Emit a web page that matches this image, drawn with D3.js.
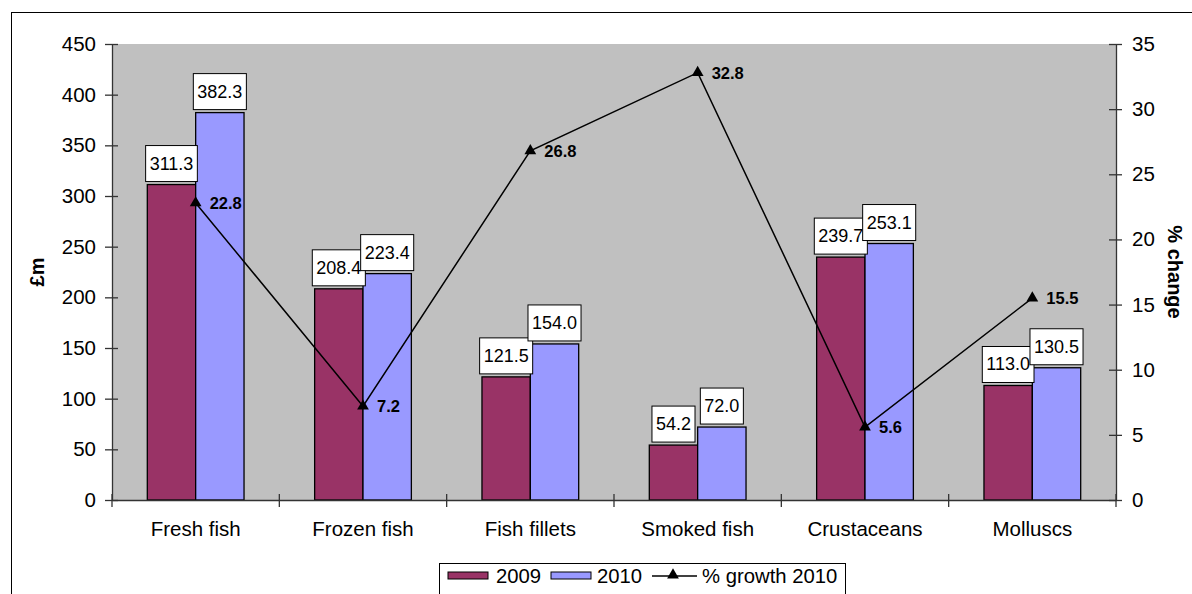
<!DOCTYPE html>
<html>
<head>
<meta charset="utf-8">
<script src="https://cdn.jsdelivr.net/npm/d3@7"></script>
<style>
  html, body { margin: 0; padding: 0; background: #fff; }
  svg { display: block; font-family: "Liberation Sans", Arial, sans-serif; }
</style>
</head>
<body>
<svg id="chart" width="1192" height="594"></svg>
<script>
// Fish sales by category, £m, with % growth in 2010
const categories = ["Fresh fish", "Frozen fish", "Fish fillets", "Smoked fish", "Crustaceans", "Molluscs"];
const values2009 = [311.3, 208.4, 121.5, 54.2, 239.7, 113.0];
const values2010 = [382.3, 223.4, 154.0, 72.0, 253.1, 130.5];
const growth2010 = [22.8, 7.2, 26.8, 32.8, 5.6, 15.5];
const leftTicks = [0, 50, 100, 150, 200, 250, 300, 350, 400, 450];
const rightTicks = [0, 5, 10, 15, 20, 25, 30, 35];
const seriesNames = ["2009", "2010", "% growth 2010"];

const colors = { s2009: "#993366", s2010: "#9999FF", plot: "#C0C0C0" };
const FONT = "Liberation Sans, Arial, sans-serif";

const svg = d3.select("#chart");
const plot = { left: 112, right: 1116, top: 44, bottom: 500 };

// Outer chart border (runs off the right and bottom edges)
svg.append("rect")
  .attr("x", 11.5).attr("y", 12.5)
  .attr("width", 1300).attr("height", 700)
  .attr("fill", "#fff").attr("stroke", "#000").attr("stroke-width", 1);

// Plot area background
svg.append("rect")
  .attr("x", plot.left).attr("y", plot.top)
  .attr("width", plot.right - plot.left).attr("height", plot.bottom - plot.top)
  .attr("fill", colors.plot);

const x = d3.scaleBand().domain(categories).range([plot.left, plot.right]).paddingInner(0).paddingOuter(0);
const yL = d3.scaleLinear().domain([0, 450]).range([plot.bottom, plot.top]);
const yR = d3.scaleLinear().domain([0, 35]).range([plot.bottom, plot.top]);

const bw = x.bandwidth() / 3.46;
const barX = (cat, i) => x(cat) + x.bandwidth() / 2 - bw + i * bw;

// Bars
const bars = svg.append("g");
[values2009, values2010].forEach((vals, si) => {
  bars.selectAll(null).data(vals).enter().append("rect")
    .attr("x", (d, i) => barX(categories[i], si))
    .attr("y", d => yL(d))
    .attr("width", bw)
    .attr("height", d => yL(0) - yL(d))
    .attr("fill", si === 0 ? colors.s2009 : colors.s2010)
    .attr("stroke", "#000").attr("stroke-width", 1.3);
});

// Left axis
const axL = svg.append("g").attr("transform", `translate(${plot.left},0)`)
  .call(d3.axisLeft(yL).tickValues(leftTicks).tickSize(0).tickPadding(16).tickFormat(d3.format("d")));
axL.select(".domain").attr("stroke", "#333").attr("stroke-width", 1.3);
axL.selectAll(".tick line").attr("x1", -7).attr("x2", 6).attr("stroke", "#333").attr("stroke-width", 1.3);
axL.selectAll(".tick text").attr("font-size", 20.5).attr("fill", "#000").attr("font-family", FONT);

// Right axis
const axR = svg.append("g").attr("transform", `translate(${plot.right},0)`)
  .call(d3.axisRight(yR).tickValues(rightTicks).tickSize(0).tickPadding(16).tickFormat(d3.format("d")));
axR.select(".domain").attr("stroke", "#333").attr("stroke-width", 1.3);
axR.selectAll(".tick line").attr("x1", -7).attr("x2", 6).attr("stroke", "#333").attr("stroke-width", 1.3);
axR.selectAll(".tick text").attr("font-size", 20.5).attr("fill", "#000").attr("font-family", FONT);

// Bottom axis
const axB = svg.append("g").attr("transform", `translate(0,${plot.bottom})`)
  .call(d3.axisBottom(x).tickSize(0).tickPadding(21));
axB.select(".domain").attr("stroke", "#333").attr("stroke-width", 1.3);
axB.selectAll(".tick line").remove();
axB.selectAll(".tick text").attr("font-size", 20.5).attr("fill", "#000").attr("font-family", FONT);
const boundaries = categories.map(c => x(c)).concat([x(categories[categories.length - 1]) + x.bandwidth()]);
axB.selectAll(".bound").data(boundaries).enter().append("line")
  .attr("x1", d => d).attr("x2", d => d).attr("y1", -6).attr("y2", 7)
  .attr("stroke", "#333").attr("stroke-width", 1.3);

// Axis titles
svg.append("text")
  .attr("transform", `translate(37,272) rotate(-90)`)
  .attr("text-anchor", "middle").attr("dominant-baseline", "central")
  .attr("font-size", 20).attr("font-weight", "bold")
  .text("£m");
svg.append("text")
  .attr("transform", `translate(1175,272) rotate(90)`)
  .attr("text-anchor", "middle").attr("dominant-baseline", "central")
  .attr("font-size", 20).attr("font-weight", "bold")
  .text("% change");

// Growth line
const cx = c => x(c) + x.bandwidth() / 2;
const line = d3.line().x((d, i) => cx(categories[i])).y(d => yR(d));
svg.append("path").datum(growth2010)
  .attr("d", line).attr("fill", "none").attr("stroke", "#000").attr("stroke-width", 1.5);

const tri = d3.symbol().type(d3.symbolTriangle).size(60);
svg.selectAll(".marker").data(growth2010).enter().append("path")
  .attr("d", tri)
  .attr("transform", (d, i) => `translate(${cx(categories[i])},${yR(d)})`)
  .attr("fill", "#000");

// Bar value labels in white boxes
const fmt = d3.format(".1f");
const labels = svg.append("g");
[values2009, values2010].forEach((vals, si) => {
  vals.forEach((v, i) => {
    const bx = barX(categories[i], si) + bw / 2;
    const by = yL(v);
    const g = labels.append("g");
    const t = g.append("text")
      .attr("x", bx).attr("y", by - 21)
      .attr("text-anchor", "middle").attr("dominant-baseline", "central")
      .attr("font-size", 18).text(fmt(v));
    const w = t.node().getComputedTextLength() + 8;
    g.insert("rect", "text")
      .attr("x", bx - w / 2).attr("y", by - 39)
      .attr("width", w).attr("height", 36)
      .attr("fill", "#fff").attr("stroke", "#000").attr("stroke-width", 1);
  });
});

// Growth value labels
svg.selectAll(".glabel").data(growth2010).enter().append("text")
  .attr("x", (d, i) => cx(categories[i]) + 14)
  .attr("y", d => yR(d))
  .attr("dominant-baseline", "central")
  .attr("font-size", 16.5).attr("font-weight", "bold")
  .text(d => fmt(d));

// Legend
const lg = svg.append("g");
lg.append("rect").attr("x", 439.5).attr("y", 563.5).attr("width", 406).attr("height", 60)
  .attr("fill", "#fff").attr("stroke", "#000").attr("stroke-width", 1);
const ly = 576;
lg.append("rect").attr("x", 448).attr("y", ly - 4).attr("width", 40).attr("height", 7)
  .attr("fill", colors.s2009).attr("stroke", "#000");
lg.append("text").attr("x", 496).attr("y", ly).attr("dominant-baseline", "central").attr("font-size", 20.3).text(seriesNames[0]);
lg.append("rect").attr("x", 551).attr("y", ly - 4).attr("width", 40).attr("height", 7)
  .attr("fill", colors.s2010).attr("stroke", "#000");
lg.append("text").attr("x", 597).attr("y", ly).attr("dominant-baseline", "central").attr("font-size", 20.3).text(seriesNames[1]);
lg.append("line").attr("x1", 652).attr("x2", 697).attr("y1", ly).attr("y2", ly).attr("stroke", "#000").attr("stroke-width", 1.5);
lg.append("path").attr("d", tri).attr("transform", `translate(673,${ly - 1})`).attr("fill", "#000");
lg.append("text").attr("x", 702).attr("y", ly).attr("dominant-baseline", "central").attr("font-size", 20.3).text(seriesNames[2]);
</script>
</body>
</html>
